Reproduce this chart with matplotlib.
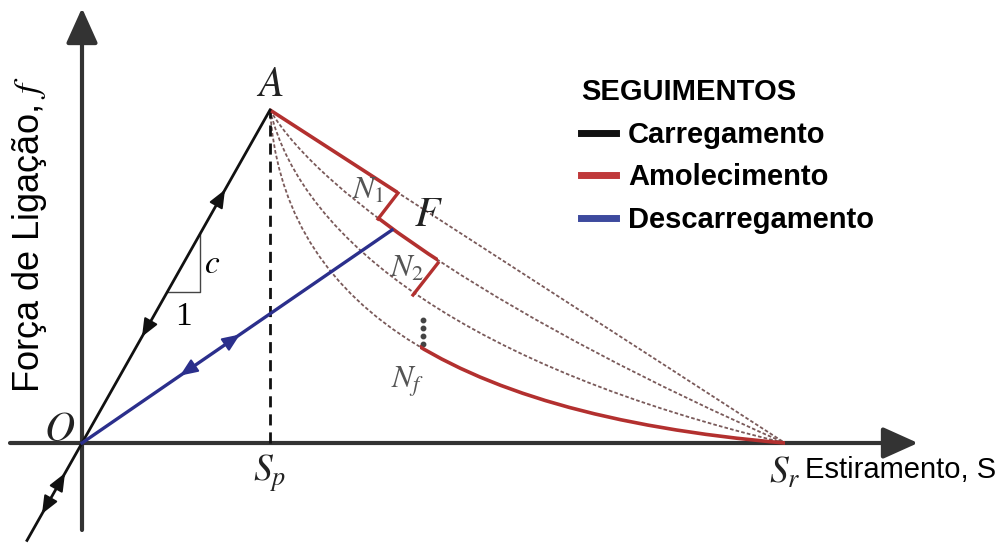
import numpy as np
import matplotlib
matplotlib.use('Agg')
import matplotlib.pyplot as plt
from matplotlib.path import Path
from matplotlib.patches import PathPatch, Rectangle
from matplotlib.lines import Line2D

plt.rcParams['font.family'] = ['Liberation Sans', 'DejaVu Sans']
plt.rcParams['mathtext.fontset'] = 'stix'

# key points of the bond-slip law (units: slip s, bond force f)
s_p = 1.88          # slip at peak
s_r = 7.03          # residual slip (force drops to zero)
f_max = 3.33        # peak bond force
s_unload, f_unload = 3.10, 2.13   # point F, where unloading starts

# degradation steps between envelopes: (start on upper, end on lower)
step_points = [((3.16, 2.50), (2.96, 2.24)),
               ((3.56, 1.80), (3.31, 1.48))]
# x-range of the red part on each envelope
red_ranges = [(s_p, 3.16), (2.96, 3.56), None, (3.38, s_r)]
dots_x = 3.41
dots_y = [1.23, 1.15, 1.07, 0.99]

# envelope curves A -> S_r as cubic Bezier control points (inner two)
envelope_ctrl = [None,
                 [(2.40, 2.45), (4.30, 1.20)],
                 [(2.20, 2.00), (3.90, 0.75)],
                 [(2.00, 1.50), (3.50, 0.30)]]

segment_names = ['Carregamento', 'Amolecimento', 'Descarregamento']
segment_colors = ['#111111', '#c0393b', '#3d4a9e']

red = '#b3302f'
blue = '#2b2f8c'
axis_col = '#333333'
dot_col = '#7a5a5a'

fig = plt.figure(figsize=(10.04, 5.48), dpi=100)
ax = fig.add_axes([0, 0, 1, 1])
ax.set_xlim(-0.82, 9.22)
ax.set_ylim(-1.05, 4.43)
ax.axis('off')

# coordinate axes with arrow heads
axis_arrow = dict(arrowstyle='-|>,head_length=0.6,head_width=0.27',
                  color=axis_col, lw=3, mutation_scale=36,
                  shrinkA=0, shrinkB=0)
ax.annotate('', xy=(8.36, 0), xytext=(-0.72, 0), arrowprops=axis_arrow)
ax.annotate('', xy=(0, 4.35), xytext=(0, -0.87), arrowprops=axis_arrow)


def mid_arrow(x, y, dx, dy, color):
    d = np.hypot(dx, dy)
    ux, uy = dx / d, dy / d
    ax.annotate('', xy=(x, y), xytext=(x - 0.12 * ux, y - 0.12 * uy),
                arrowprops=dict(arrowstyle='-|>,head_length=0.6,head_width=0.25',
                                color=color, lw=1.5, mutation_scale=18,
                                shrinkA=0, shrinkB=0))


# loading branch, extended into the negative quadrant
k = f_max / s_p
ax.plot([-0.55, s_p], [-0.55 * k, f_max], color='#111111', lw=2, zorder=4)
mid_arrow(1.43, 1.43 * k, 1, k, '#111111')
mid_arrow(0.60, 0.60 * k, -1, -k, '#111111')
mid_arrow(-0.17, -0.17 * k, 1, k, '#111111')
mid_arrow(-0.40, -0.40 * k, -1, -k, '#111111')

# slope triangle
tx0, tx1 = 0.85, 1.18
ax.plot([tx0, tx1, tx1], [tx0 * k, tx0 * k, tx1 * k], color='#444444', lw=1)
ax.text(1.30, 1.78, '$c$', fontsize=24, ha='center', va='center')
ax.text(1.01, 1.26, '1', fontsize=24, family='Liberation Serif',
        ha='center', va='center')

# dashed line at peak slip
ax.plot([s_p, s_p], [0, f_max], color='#111111', lw=2, ls=(0, (4, 2.5)), zorder=3)

# envelopes: straight line and degraded curves
for i, ctrl in enumerate(envelope_ctrl):
    if ctrl is None:
        verts = [(s_p, f_max), (s_r, 0)]
        codes = [Path.MOVETO, Path.LINETO]
    else:
        verts = [(s_p, f_max), ctrl[0], ctrl[1], (s_r, 0)]
        codes = [Path.MOVETO, Path.CURVE4, Path.CURVE4, Path.CURVE4]
    path = Path(verts, codes)
    ax.add_patch(PathPatch(path, fill=False, edgecolor=dot_col, lw=1.3,
                           ls=(0, (2, 1.2)), zorder=2))
    if red_ranges[i] is not None:
        x0, x1 = red_ranges[i]
        pp = PathPatch(path, fill=False, edgecolor=red, lw=2.6, zorder=3,
                       capstyle='round')
        ax.add_patch(pp)
        clip = Rectangle((x0, -1), x1 - x0, 6, transform=ax.transData)
        pp.set_clip_path(clip)

for (xa, ya), (xb, yb) in step_points:
    ax.plot([xa, xb], [ya, yb], color=red, lw=2.4, zorder=3)

ax.plot([dots_x] * len(dots_y), dots_y, ls='none', marker='o', ms=3.2,
        color='#444444')

# unloading branch back to the origin
ax.plot([0, s_unload], [0, f_unload], color=blue, lw=2.4, zorder=4)
mid_arrow(1.58, 1.58 * f_unload / s_unload, 1, f_unload / s_unload, blue)
mid_arrow(0.98, 0.98 * f_unload / s_unload, -1, -f_unload / s_unload, blue)

# point labels
lab = dict(fontsize=30, color='#222222', ha='center', va='center')
ax.text(s_p, 3.58, '$A$', **lab)
ax.text(-0.22, 0.13, '$O$', **lab)
ax.text(3.46, 2.28, '$F$', **lab)
nlab = dict(fontsize=23, color='#555555', ha='center', va='center')
ax.text(2.86, 2.52, '$N_1$', **nlab)
ax.text(3.25, 1.74, '$N_2$', **nlab)
ax.text(3.26, 0.61, '$N_f$', **nlab)
ax.text(s_p, -0.30, '$S_p$', fontsize=27, color='#222222', ha='center', va='center')
ax.text(s_r, -0.30, '$S_r$', fontsize=27, color='#222222', ha='center', va='center')

# axis titles
ax.text(7.23, -0.27, 'Estiramento, S', fontsize=21, ha='left', va='center')
ax.text(-0.52, 2.08, 'Força de Ligação, $f$', fontsize=26, rotation=90,
        ha='center', va='center')

# legend for the branches
handles = [Line2D([0], [0], color=c, lw=5) for c in segment_colors]
leg = ax.legend(handles, segment_names, title='SEGUIMENTOS', loc='upper left',
                bbox_to_anchor=(0.553, 0.905), frameon=False, handlelength=1.2,
                handletextpad=0.4, labelspacing=0.5,
                prop=dict(family='Liberation Sans', weight='bold', size=21))
leg.get_title().set_fontweight('bold')
leg.get_title().set_fontsize(21)
leg._legend_box.align = 'left'

fig.savefig('out.png', dpi=100)
